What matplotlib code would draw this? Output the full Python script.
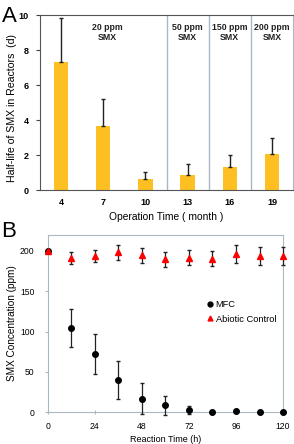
import matplotlib.pyplot as plt
from matplotlib.lines import Line2D

plt.rcParams['font.family'] = ['Liberation Sans', 'DejaVu Sans']

# panel A: half-life of SMX
months = ['4', '7', '10', '13', '16', '19']
half_life = [7.33, 3.66, 0.61, 0.86, 1.33, 2.06]
half_life_err = [2.53, 1.54, 0.40, 0.63, 0.67, 0.93]
stage_labels = ['20 ppm\nSMX', '50 ppm\nSMX', '150 ppm\nSMX', '200 ppm\nSMX']
stage_pos = [1.1, 3.0, 4.0, 5.0]
stage_bounds = [2.5, 3.5, 4.5]

# panel B: SMX concentration over time
hours = [0, 12, 24, 36, 48, 60, 72, 84, 96, 108, 120]
mfc = [200, 104, 72, 40, 16.5, 8.3, 2.5, 0.5, 0.8, 0, 0]
mfc_err = [0, 23.5, 25, 23.5, 19.5, 11.5, 5, 0, 0, 0, 0]
abiotic = [200, 191.5, 193.5, 198.5, 194.5, 189.5, 191.5, 190.5, 196, 193.5, 193.5]
abiotic_err = [0, 7.5, 7.5, 9.5, 9.5, 9.5, 9.5, 9.5, 11.5, 11.5, 11.5]

bar_color = '#FDBF22'
frame_color = '#A9B8C3'

fig = plt.figure(figsize=(2.94, 4.44), dpi=100)

# ---- A ----
axA = fig.add_axes([0.136, 0.572, 0.861, 0.394])
x = range(len(months))
axA.bar(x, half_life, width=0.34, color=bar_color, zorder=2)
axA.errorbar(x, half_life, yerr=[[0] * len(months), half_life_err], fmt='none',
             ecolor='#222222', elinewidth=1.0, capsize=1.5, capthick=1.0, zorder=3)
for b in stage_bounds:
    axA.axvline(b, color=frame_color, lw=1.0, zorder=1)
for p, s in zip(stage_pos, stage_labels):
    axA.text(p, 9.0, s, ha='center', va='center', fontsize=6.3,
             fontweight='bold', linespacing=1.15, color='#222222')
axA.set_xlim(-0.5, 5.5)
axA.set_ylim(0, 10)
axA.set_xticks(list(x))
axA.set_xticklabels(months)
axA.set_yticks(range(0, 11, 2))
axA.tick_params(axis='x', length=0, labelsize=6.5, pad=6)
axA.tick_params(axis='y', length=3, labelsize=6.5, pad=5, color='#444444')
for lab in axA.get_xticklabels() + axA.get_yticklabels():
    lab.set_fontweight('bold')
for sp in ['top', 'left', 'bottom']:
    axA.spines[sp].set_color('#555555')
axA.spines['right'].set_color(frame_color)
axA.set_ylabel('Half-life of SMX in Reactors  (d)', fontsize=7.6)
axA.yaxis.set_label_coords(-0.09, 0.47)
axA.set_xlabel('Operation Time ( month )', fontsize=7.4, labelpad=3)
fig.text(0.005, 0.987, 'A', fontsize=16, va='top', ha='left')

# ---- B ----
axB = fig.add_axes([0.162, 0.072, 0.801, 0.399])
axB.errorbar(hours, mfc, yerr=mfc_err, fmt='o', color='black', ms=4,
             ecolor='#222222', elinewidth=0.9, capsize=1.2,
             clip_on=False, zorder=3)
axB.errorbar(hours, abiotic, yerr=abiotic_err, fmt='^', color='red', ms=4,
             ecolor='#222222', elinewidth=0.9, capsize=1.2,
             clip_on=False, zorder=4)
axB.set_xlim(0, 120)
axB.set_ylim(0, 220)
axB.set_xticks(range(0, 121, 24))
axB.set_yticks(range(0, 201, 50))
axB.tick_params(axis='both', length=2.5, labelsize=6.2, color=frame_color)
axB.tick_params(axis='x', direction='inout', pad=6)
axB.tick_params(axis='y', pad=7)
for sp in axB.spines.values():
    sp.set_color(frame_color)
axB.set_ylabel('SMX Concentration (ppm)', fontsize=7.2)
axB.yaxis.set_label_coords(-0.13, 0.5)
axB.set_xlabel('Reaction Time (h)', fontsize=6.5, labelpad=3)
handles = [Line2D([], [], ls='none', marker='o', color='black', ms=3.5),
           Line2D([], [], ls='none', marker='^', color='red', ms=3.5)]
axB.legend(handles, ['MFC', 'Abiotic Control'], loc='center left',
           bbox_to_anchor=(0.64, 0.565), frameon=False, fontsize=6.7,
           handlelength=0.6, handletextpad=0.35, labelspacing=0.6)
fig.text(0.005, 0.502, 'B', fontsize=16, va='top', ha='left')

fig.savefig('out.png', dpi=100)
